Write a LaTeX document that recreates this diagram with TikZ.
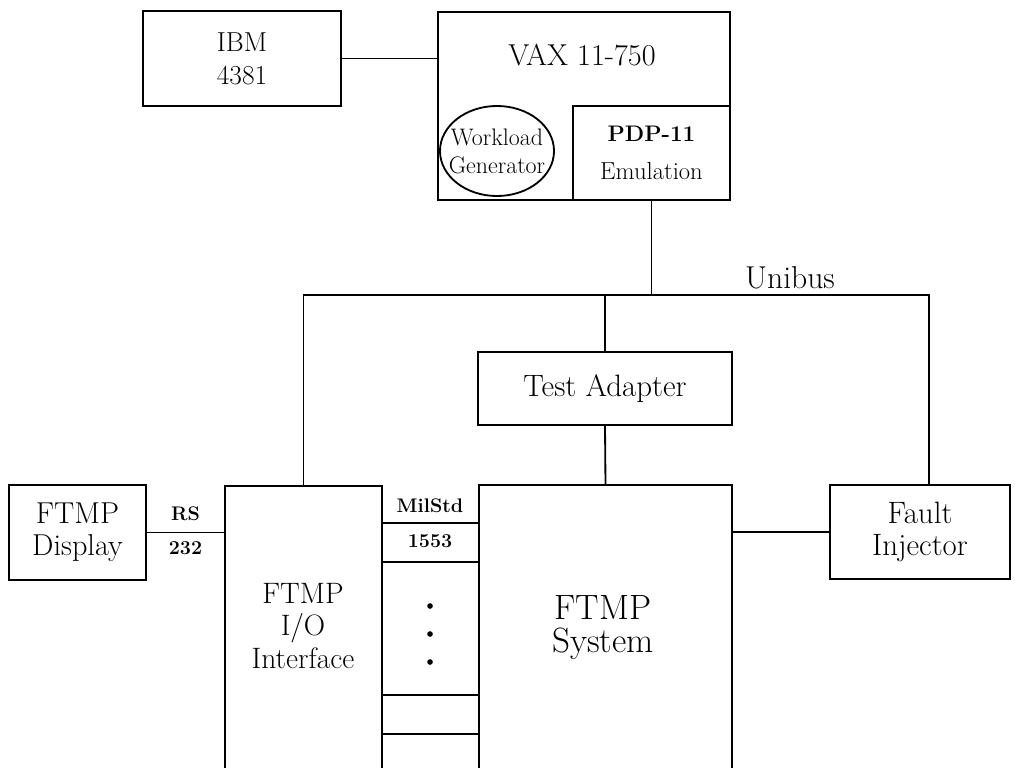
\documentclass[tikz,border=0pt]{standalone}
\usepackage{tikz}
\usetikzlibrary{shapes.geometric}

\begin{document}
\begin{tikzpicture}[x=0.025cm, y=-0.025cm,
    block/.style={rectangle, draw, line width=1.3pt, inner sep=0pt, align=center},
    wire/.style={line width=1.3pt},
    txt/.style={align=center, inner sep=0pt},
    small/.style={txt, font=\bfseries\fontsize{14}{16}\selectfont}
  ]
  \useasboundingbox (0,0) rectangle (1015,768);
  \clip (0,0) rectangle (1015,768);

  % host side
  \node[block, minimum width=4.95cm, minimum height=2.375cm,
        font=\fontsize{19.5}{23.5}\selectfont] (ibm) at (242,58.5) {IBM\\4381};
  \node[block, minimum width=7.3cm, minimum height=4.7cm] (vax) at (584,106) {};
  \node[txt, font=\fontsize{21.5}{24}\selectfont] (vaxname) at (582,55) {VAX 11-750};
  \node[block, minimum width=3.925cm, minimum height=2.35cm,
        font=\fontsize{17.5}{27.5}\selectfont] (pdp) at (651.5,153)
        {\fontsize{16}{27.5}\selectfont\textbf{PDP-11}\\Emulation};
  \node[ellipse, draw, line width=1.3pt, minimum width=2.85cm, minimum height=2.25cm,
        inner sep=0pt] (wg) at (497,151) {};
  \node[txt, font=\fontsize{17}{20}\selectfont] (wgname) at (wg) {Workload\\Generator};

  % bus and test side
  \node[block, minimum width=6.35cm, minimum height=1.825cm,
        font=\fontsize{22}{24}\selectfont] (ta) at (605,388.5) {Test Adapter};
  \node[block, minimum width=3.425cm, minimum height=2.375cm,
        font=\fontsize{21.5}{23}\selectfont] (disp) at (77.5,532.5) {FTMP\\Display};
  \node[block, minimum width=3.925cm, minimum height=7.85cm] (io) at (303.5,643) {};
  \node[txt, font=\fontsize{21}{23}\selectfont] (ioname) at (303,626) {FTMP\\I/O\\Interface};
  \node[block, minimum width=6.325cm, minimum height=7.875cm] (sys) at (605.5,642.5) {};
  \node[txt, font=\fontsize{25}{23.5}\selectfont] (sysname) at (603,628) {FTMP\\System};
  \node[block, minimum width=4.5cm, minimum height=2.35cm,
        font=\fontsize{22}{23}\selectfont] (fault) at (920,532) {Fault\\Injector};

  \coordinate (busR) at (929,295);

  \draw[wire] (ibm.east) -- (ibm.east -| vax.west);
  \draw[wire] (pdp.south) -- (pdp.south |- busR);
  \draw[wire] (io.north) |- (busR) -- (busR |- fault.north);
  \node[txt, font=\fontsize{22.5}{24}\selectfont] (unibus) at (790,278) {Unibus};
  \draw[wire] (ta.north) -- (ta.north |- busR);
  \draw[wire] (ta.south) -- (sys.north);
  \draw[wire] (disp.east) -- node[small, above=8pt] {RS} node[small, below=6pt] {232}
    (disp.east -| io.west);
  \draw[wire] (fault.west) -- (fault.west -| sys.east);

  % MilStd 1553 channels
  \foreach \y in {523,562,695,734}
    \draw[wire] (io.east |- 0,\y) -- (sys.west |- 0,\y);
  \node[small] (milstd) at (430,506) {MilStd};
  \node[small] (ch) at (430,541) {1553};
  \foreach \y in {606,634,662}
    \fill (430,\y) circle[radius=2pt];
\end{tikzpicture}
\end{document}
